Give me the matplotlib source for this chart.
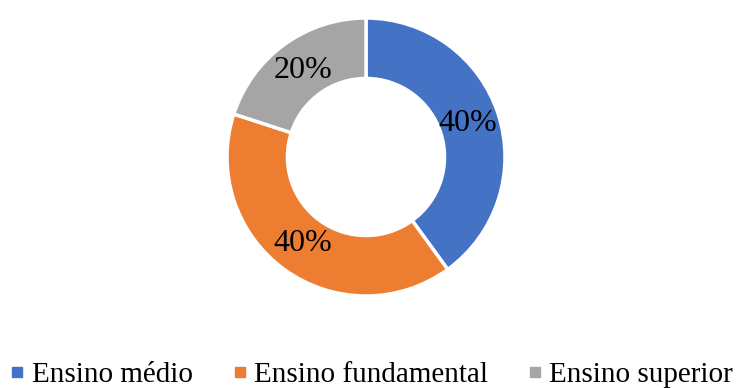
import matplotlib

matplotlib.use("Agg")
import matplotlib.pyplot as plt
from matplotlib.lines import Line2D

# --- data -------------------------------------------------------------------
categories = ["Ensino médio", "Ensino fundamental", "Ensino superior"]
shares = [40, 40, 20]
colors = ["#4472C4", "#ED7D31", "#A5A5A5"]

plt.rcParams["font.family"] = ["Liberation Serif", "DejaVu Serif"]

W, H = 736, 388
fig = plt.figure(figsize=(W / 100, H / 100), dpi=100)

# donut centred at (366, 157) px, outer radius 139 px
cx, cy, r = 366, 157, 139
ax = fig.add_axes([(cx - r) / W, (H - cy - r) / H, 2 * r / W, 2 * r / H])
wedges, texts, autotexts = ax.pie(
    shares,
    colors=colors,
    startangle=90,
    counterclock=False,
    radius=1.0,
    autopct="%d%%",
    pctdistance=0.77,
    wedgeprops=dict(width=0.435, edgecolor="white", linewidth=2.5),
    textprops=dict(fontsize=23, color="black"),
)
ax.set_xlim(-1, 1)
ax.set_ylim(-1, 1)
ax.set_aspect("equal")
ax.axis("off")

handles = [Line2D([], [], marker="s", linestyle="none", markersize=7,
                  markerfacecolor=c, markeredgecolor=c) for c in colors]
fig.legend(handles, categories, loc="center", ncol=3, frameon=False,
           bbox_to_anchor=(0.505, 1 - 375 / H), fontsize=21,
           handlelength=0.5, handletextpad=0.25, columnspacing=1.35,
           borderaxespad=0)

fig.savefig("out.png", dpi=100)
